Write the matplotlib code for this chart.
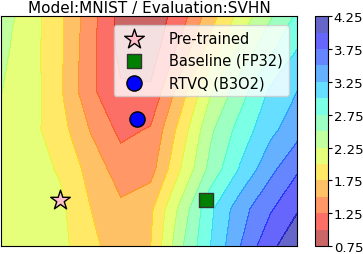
import numpy as np
import matplotlib
matplotlib.use("Agg")
from matplotlib import pyplot as plt

# loss landscape grid (x to the right, y measured downward from the top edge)
grid_x = [0, 12, 30, 60, 90, 120, 150, 180, 210, 240, 270, 297]
grid_y = [0, 33, 75, 113, 153, 193, 230]
loss = [
    [2.52, 2.27, 2.12, 1.79, 1.35, 0.90, 0.84, 1.12, 1.65, 2.09, 2.47, 2.80],
    [2.38, 2.20, 2.10, 1.79, 1.32, 0.93, 0.86, 1.33, 1.84, 2.32, 2.69, 3.00],
    [2.26, 2.16, 2.12, 1.77, 1.30, 1.03, 1.04, 1.62, 2.22, 2.64, 3.04, 3.25],
    [2.20, 2.15, 2.08, 1.84, 1.48, 1.18, 1.27, 1.84, 2.45, 2.85, 3.18, 3.40],
    [2.20, 2.17, 2.10, 1.97, 1.65, 1.38, 1.40, 2.00, 2.58, 3.03, 3.43, 3.72],
    [2.22, 2.20, 2.15, 2.05, 1.75, 1.55, 1.70, 2.32, 2.95, 3.40, 3.72, 3.98],
    [2.25, 2.22, 2.18, 2.07, 1.82, 1.60, 1.75, 2.45, 3.00, 3.50, 3.95, 4.15],
]
levels = np.arange(0.75, 4.26, 0.25)
cbar_ticks = [0.75, 1.25, 1.75, 2.25, 2.75, 3.25, 3.75, 4.25]

points = {
    "Pre-trained": (59, 184),
    "Baseline (FP32)": (205, 184),
    "RTVQ (B3O2)": (136, 103),
}


def main():
    fig = plt.figure(figsize=(3.63, 2.55), dpi=100)
    ax = fig.add_axes([0.003, 0.031, 0.816, 0.902])
    cax = fig.add_axes([0.868, 0.031, 0.036, 0.902])

    cs = ax.contourf(grid_x, grid_y, loss, levels=levels, cmap="jet_r", alpha=0.6)
    ax.set_xlim(grid_x[0], grid_x[-1])
    ax.set_ylim(grid_y[-1], grid_y[0])
    ax.set_xticks([])
    ax.set_yticks([])

    x, y = points["Pre-trained"]
    ax.scatter(x, y, marker="*", s=220, color="pink", edgecolors="black",
               linewidths=1.0, label="Pre-trained", zorder=3)
    x, y = points["Baseline (FP32)"]
    ax.scatter(x, y, marker="s", s=110, color="green", edgecolors="#333333",
               linewidths=1.0, label="Baseline (FP32)", zorder=3)
    x, y = points["RTVQ (B3O2)"]
    ax.scatter(x, y, marker="o", s=120, color="blue", edgecolors="black",
               linewidths=1.0, label="RTVQ (B3O2)", zorder=3)

    ax.legend(loc="upper right", fontsize=10.5, handletextpad=1.4,
              labelspacing=0.5, borderaxespad=0.6)
    ax.set_title("Model:MNIST / Evaluation:SVHN", fontsize=11, pad=3)

    cb = fig.colorbar(cs, cax=cax, ticks=cbar_ticks)
    cb.ax.tick_params(labelsize=9.5, length=3, pad=1)

    fig.savefig("out.png", dpi=100)


if __name__ == "__main__":
    main()
